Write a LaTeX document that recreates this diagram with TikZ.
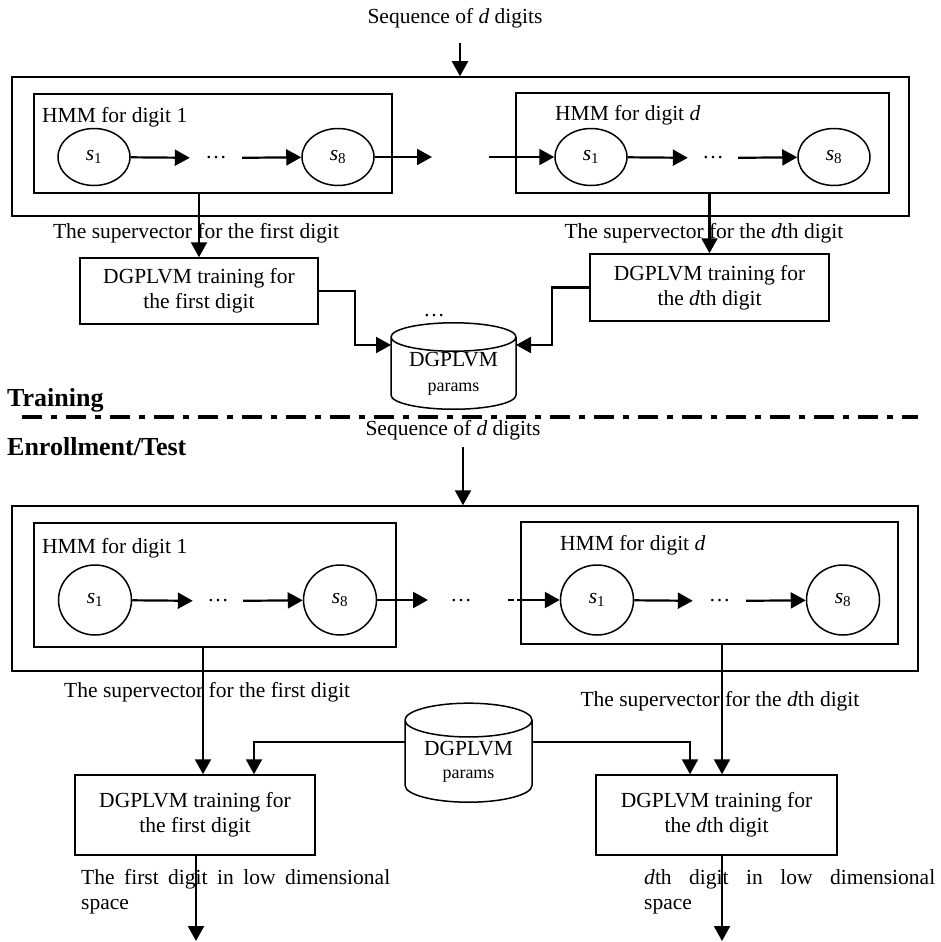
\documentclass[tikz,border=0pt]{standalone}
\usepackage{fontspec}
\setmainfont{Liberation Serif}
\usetikzlibrary{arrows.meta,shapes.geometric,calc}
\tolerance=9999
\tikzset{
  box/.style={draw,line width=1.5pt,inner sep=0pt},
  state/.style={draw,ellipse,line width=1.5pt,inner sep=0pt,minimum width=72pt,minimum height=57pt},
  bigstate/.style={state,minimum width=73pt,minimum height=70pt},
  arr/.style={line width=2.2pt,-{Triangle[length=15pt,width=16pt]}},
  lbl/.style={inner sep=0pt},
  gap/.style={inner sep=0pt},
  db/.style={draw,cylinder,shape border rotate=90,aspect=0.32,line width=1.5pt,inner sep=0pt,align=center},
  tag/.style={inner sep=0pt,anchor=west,font=\bfseries\fontsize{26}{30}\selectfont},
}
\begin{document}
\begin{tikzpicture}[x=1pt,y=-1pt,font=\fontsize{21.5}{25}\selectfont]
\useasboundingbox (0,0) rectangle (941,942);
% training part
\node[lbl] (seqA) at (455,18) {Sequence of \textit{d} digits};
\coordinate (inA) at (460,43);
\node[box,minimum width=897pt,minimum height=139pt] (allA) at (460.5,146.5) {};
\draw[arr] (inA) -- (inA |- allA.north);
\node[box,minimum width=358pt,minimum height=99pt] (hmmA1) at (213,143.5) {};
\node[box,minimum width=373pt,minimum height=100pt] (hmmA2) at (702.5,143) {};
\node[lbl,anchor=west] (capA1) at (42,117) {HMM for digit 1};
\node[lbl,anchor=west] (capA2) at (555,115) {HMM for digit \textit{d}};
\node[state] (s1A) at (94,157) {\textit{s}\textsubscript{1}};
\node[gap,minimum width=52pt] (dotsA1) at (216,158) {\dots};
\node[state] (s8A) at (338,157) {\textit{s}\textsubscript{8}};
\node[state] (s1B) at (591,157) {\textit{s}\textsubscript{1}};
\node[gap,minimum width=50pt] (dotsA2) at (713,158) {\dots};
\node[state] (s8B) at (834,157) {\textit{s}\textsubscript{8}};
\coordinate (gapA1) at (432,157);
\coordinate (gapA2) at (489,157);
\draw[arr] (s1A) -- (dotsA1);
\draw[arr] (dotsA1) -- (s8A);
\draw[arr] (s8A) -- (gapA1);
\draw[arr] (gapA2) -- (s1B);
\draw[arr] (s1B) -- (dotsA2);
\draw[arr] (dotsA2) -- (s8B);
\node[box,minimum width=238pt,minimum height=66pt,align=center] (trainA1) at (199,291) {DGPLVM training for\\the first digit};
\node[box,minimum width=239pt,minimum height=67pt,align=center] (trainA2) at (709.5,287.5) {DGPLVM training for\\the \textit{d}th digit};
\draw[arr] (trainA1.north |- hmmA1.south) -- (trainA1.north);
\draw[arr] (trainA2.north |- hmmA2.south) -- (trainA2.north);
\node[lbl] (supA1) at (196,233) {The supervector for the first digit};
\node[lbl] (supA2) at (704,233) {The supervector for the \textit{d}th digit};
\node[db,minimum width=125pt,minimum height=79pt] (dbA) at (453.5,373.5) {DGPLVM\\[0pt]{\fontsize{18}{20}\selectfont params}};
\node[lbl] (moreA) at (434,316) {\dots};
\draw[arr] (trainA1.east) -- ++(36,0) |- ($(dbA.center)+(-62.5,-28.5)$);
\draw[arr] (trainA2.west) -- ++(-37,0) |- ($(dbA.center)+(62.5,-28.5)$);
% separator
\node[tag] (trainTag) at (7,400) {Training};
\coordinate (sepL) at (22,417);
\coordinate (sepR) at (918,417);
\draw[line width=4pt,dash pattern=on 20pt off 9pt on 6pt off 9pt] (sepL) -- (sepR);
\node[tag] (testTag) at (7,447) {Enrollment/Test};
% enrollment / test part
\node[lbl] (seqB) at (453,430) {Sequence of \textit{d} digits};
\coordinate (inB) at (463,447);
\node[box,minimum width=906pt,minimum height=165pt] (allB) at (465,588.5) {};
\draw[arr] (inB) -- (inB |- allB.north);
\node[box,minimum width=362pt,minimum height=124pt] (hmmB1) at (215,585) {};
\node[box,minimum width=377pt,minimum height=122pt] (hmmB2) at (709.5,583) {};
\node[lbl,anchor=west] (capB1) at (42,548) {HMM for digit 1};
\node[lbl,anchor=west] (capB2) at (560,545) {HMM for digit \textit{d}};
\node[bigstate] (s1C) at (95,600) {\textit{s}\textsubscript{1}};
\node[gap,minimum width=50pt] (dotsB1) at (218,601) {\dots};
\node[bigstate] (s8C) at (340,600) {\textit{s}\textsubscript{8}};
\node[gap] (dotsM) at (461,601) {\dots};
\node[bigstate] (s1D) at (597,600) {\textit{s}\textsubscript{1}};
\node[gap,minimum width=53pt] (dotsB2) at (719.5,601) {\dots};
\node[bigstate] (s8D) at (843,600) {\textit{s}\textsubscript{8}};
\coordinate (gapB1) at (428,600);
\coordinate (gapB2) at (508,600);
\draw[arr] (s1C) -- (dotsB1);
\draw[arr] (dotsB1) -- (s8C);
\draw[arr] (s8C) -- (gapB1);
\draw[arr,dash pattern=on 6pt off 3pt on 200pt off 0pt] (gapB2) -- (s1D);
\draw[arr] (s1D) -- (dotsB2);
\draw[arr] (dotsB2) -- (s8D);
\node[box,minimum width=240pt,minimum height=80pt,align=center] (trainB1) at (195,815) {DGPLVM training for\\the first digit};
\node[box,minimum width=241pt,minimum height=80pt,align=center] (trainB2) at (716.5,815) {DGPLVM training for\\the \textit{d}th digit};
\draw[arr] ([xshift=8pt]trainB1.north |- hmmB1.south) -- ([xshift=8pt]trainB1.north);
\draw[arr] ([xshift=5.5pt]trainB2.north |- hmmB2.south) -- ([xshift=5.5pt]trainB2.north);
\node[lbl,anchor=west] (supB1) at (64,692) {The supervector for the first digit};
\node[lbl] (supB2) at (720,701) {The supervector for the \textit{d}th digit};
\node[db,aspect=0.38,minimum width=127pt,minimum height=99pt] (dbB) at (468.5,761.5) {DGPLVM\\[-2pt]{\fontsize{18}{20}\selectfont params}};
\draw[arr] ($(dbB.center)+(-63.5,-19.5)$) -| ([xshift=59pt]trainB1.north);
\draw[arr] ($(dbB.center)+(63.5,-19.5)$) -| ([xshift=-26.5pt]trainB2.north);
\coordinate (outB1) at (196,941);
\coordinate (outB2) at (722,941);
\draw[arr] (trainB1.south -| outB1) -- (outB1);
\draw[arr] (trainB2.south -| outB2) -- (outB2);
\node[lbl,anchor=north west,text width=309pt,align=justify] (lowB1) at (81,869) {The first digit in low dimensional\linebreak space};
\node[lbl,anchor=north west,text width=291pt,align=justify] (lowB2) at (644,869) {\textit{d}th digit in low dimensional\linebreak space};
\end{tikzpicture}
\end{document}
